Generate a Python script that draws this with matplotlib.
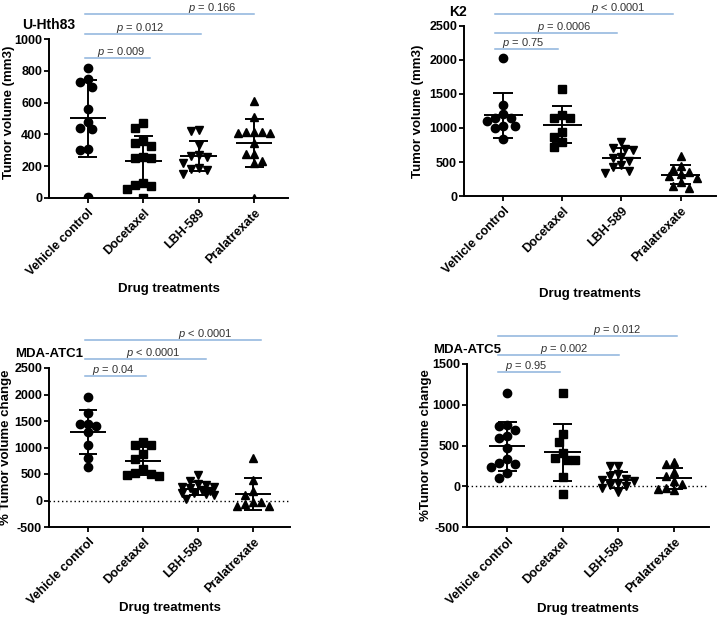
import numpy as np
import matplotlib.pyplot as plt

plt.rcParams['font.family'] = ['Liberation Sans', 'DejaVu Sans']
plt.rcParams['mathtext.fontset'] = 'custom'
plt.rcParams['mathtext.it'] = 'Liberation Sans:italic'
plt.rcParams['mathtext.rm'] = 'Liberation Sans'

groups = ["Vehicle control", "Docetaxel", "LBH-589", "Pralatrexate"]
markers = ['o', 's', 'v', '^']

# values, one list per treatment group
uhth83 = [
    [817, 749, 728, 699, 558, 476, 438, 431, 309, 299, 6],
    [469, 442, 358, 349, 324, 259, 253, 253, 97, 82, 74, 57, 0],
    [427, 423, 333, 270, 265, 255, 222, 190, 180, 178, 150],
    [611, 507, 415, 415, 415, 406, 406, 347, 274, 274, 232, 221, 0],
]
k2 = [
    [2030, 1337, 1209, 1146, 1140, 1096, 1032, 1032, 998, 836],
    [1578, 1185, 1145, 1145, 948, 865, 799, 727],
    [800, 700, 690, 675, 575, 555, 520, 450, 430, 370, 340],
    [590, 440, 400, 350, 320, 290, 260, 200, 150, 120],
]
atc1 = [
    [1956, 1652, 1450, 1450, 1412, 1285, 1051, 798, 639],
    [1095, 1051, 1038, 880, 791, 595, 513, 500, 475, 462],
    [490, 370, 310, 290, 260, 250, 230, 200, 170, 150, 140, 120, 100, 30],
    [810, 390, 170, 100, -20, -30, -60, -100, -110],
]
atc5 = [
    [1148, 748, 743, 686, 620, 586, 467, 330, 285, 268, 240, 157, 107],
    [1148, 644, 549, 413, 351, 322, 322, 116, -91],
    [250, 245, 150, 120, 90, 80, 60, 40, 20, 0, -20, -70],
    [300, 270, 170, 120, 60, 30, -20, -30, -40],
]

uhth83_p = ["= 0.009", "= 0.012", "= 0.166"]
k2_p = ["= 0.75", "= 0.0006", "< 0.0001"]
atc1_p = ["= 0.04", "< 0.0001", "< 0.0001"]
atc5_p = ["= 0.95", "= 0.002", "= 0.012"]

W, H = 724, 621

panels = [
    dict(data=uhth83, pvals=uhth83_p, title="U-Hth83", tsize=10, tha='center',
         ylabel="Tumor volume (mm3)", px=(49, 39, 288, 198),
         xlim=(-0.70, 3.61), ylim=(0, 1000), yticks=np.arange(0, 1001, 200),
         bar_y=[880, 1031, 1160], bar_x0=-0.05, bar_x1=[1.12, 2.04, 3.0],
         txt_x=[0.61, 0.94, 2.25], ylab=(-0.142, 0.54), xlab=-0.535, zero=False),
    dict(data=k2, pvals=k2_p, title="K2", tsize=10, tha='right',
         ylabel="Tumor volume (mm3)", px=(464, 26, 716, 196),
         xlim=(-0.66, 3.6), ylim=(0, 2500), yticks=np.arange(0, 2501, 500),
         bar_y=[2161, 2397, 2680], bar_x0=-0.14, bar_x1=[0.93, 1.93, 2.88],
         txt_x=[0.34, 1.04, 1.95], ylab=(-0.159, 0.5), xlab=-0.54, zero=False),
    dict(data=atc1, pvals=atc1_p, title="MDA-ATC1", tsize=9.5, tha='center',
         ylabel="% Tumor volume change", px=(49, 368, 290, 527),
         xlim=(-0.71, 3.67), ylim=(-500, 2500), yticks=np.arange(-500, 2501, 500),
         bar_y=[2349, 2670, 3028], bar_x0=-0.05, bar_x1=[1.06, 2.14, 3.15],
         txt_x=[0.45, 1.19, 2.14], ylab=(-0.152, 0.5), xlab=-0.47, zero=True),
    dict(data=atc5, pvals=atc5_p, title="MDA-ATC5", tsize=9.5, tha='center',
         ylabel="%Tumor volume change", px=(467, 364, 709, 527),
         xlim=(-0.72, 3.63), ylim=(-500, 1500), yticks=np.arange(-500, 1501, 500),
         bar_y=[1399, 1607, 1840], bar_x0=-0.16, bar_x1=[0.95, 2.02, 3.05],
         txt_x=[0.34, 1.03, 1.98], ylab=(-0.145, 0.5), xlab=-0.466, zero=True),
]


def swarm_x(ax, pos, vals, size_px=8.0, max_px=16.0):
    # deterministic beeswarm in pixel space, kept within +-max_px
    to_px = ax.transData.transform
    ys = to_px(np.column_stack([np.full(len(vals), pos), vals]))[:, 1]
    unit = to_px((1, 0))[0] - to_px((0, 0))[0]
    step = size_px / 2
    cands = [0.0]
    k = 1
    while k * step <= max_px:
        cands += [-k * step, k * step]
        k += 1
    done = []
    offs = np.zeros(len(vals))
    for i in np.argsort(-np.asarray(vals, dtype=float), kind='stable'):
        best, best_d = 0.0, -1.0
        for c in cands:
            d = min([np.hypot(c - ox, ys[i] - oy) for ox, oy in done] or [1e9])
            if d >= size_px:
                best = c
                break
            if d > best_d:
                best, best_d = c, d
        offs[i] = best
        done.append((best, ys[i]))
    return pos + offs / unit


fig = plt.figure(figsize=(W / 100, H / 100), dpi=100)

for p in panels:
    x0, y0, x1, y1 = p['px']
    ax = fig.add_axes([x0 / W, 1 - y1 / H, (x1 - x0) / W, (y1 - y0) / H])
    ax.set_xlim(*p['xlim'])
    ax.set_ylim(*p['ylim'])

    for s in ['top', 'right']:
        ax.spines[s].set_visible(False)
    for s in ['left', 'bottom']:
        ax.spines[s].set_linewidth(1.4)

    if p['zero']:
        ax.axhline(0, color='black', ls=(0, (1, 2)), lw=1.0, zorder=1)

    for i, vals in enumerate(p['data']):
        v = np.asarray(vals, dtype=float)
        xs = swarm_x(ax, i, v)
        ms = 6.3 if markers[i] in ('v', '^') else 6
        if markers[i] == 's':
            ms = 5.6
        ax.plot(xs, v, ls='none', marker=markers[i], ms=ms, color='black', zorder=3)
        m, sd = v.mean(), v.std(ddof=1)
        ax.hlines(m, i - 0.33, i + 0.33, color='black', lw=1.4, zorder=4)
        ax.vlines(i, m - sd, m + sd, color='black', lw=1.4, zorder=4)
        ax.hlines([m - sd, m + sd], i - 0.17, i + 0.17, color='black', lw=1.4, zorder=4)

    for k in range(3):
        ax.plot([p['bar_x0'], p['bar_x1'][k]], [p['bar_y'][k]] * 2,
                color='#8db3dd', lw=1.1, clip_on=False)
        ax.annotate(r"$\mathit{p}$ " + p['pvals'][k], (p['txt_x'][k], p['bar_y'][k]),
                    xytext=(0, 2.2), textcoords='offset points', ha='center',
                    va='baseline', fontsize=8, color='#333333', annotation_clip=False)

    ax.set_yticks(p['yticks'])
    ax.set_yticklabels([str(t) for t in p['yticks']], fontweight='bold')
    ax.set_xticks(range(len(groups)))
    ax.set_xticklabels(groups, rotation=45, ha='right', rotation_mode='anchor',
                       fontweight='bold')
    ax.tick_params(axis='both', direction='out', length=3.5, width=1.3,
                   labelsize=9, pad=1.5)
    ax.tick_params(axis='x', pad=3)

    ax.set_ylabel(p['ylabel'], fontweight='bold', fontsize=9.5)
    ax.yaxis.set_label_coords(*p['ylab'])
    ax.set_xlabel("Drug treatments", fontweight='bold', fontsize=9.5)
    ax.xaxis.set_label_coords(0.5, p['xlab'])

    ax.annotate(p['title'], (0, 1), xycoords='axes fraction',
                xytext=(2 if p['tha'] == 'right' else 0, 10),
                textcoords='offset points', ha=p['tha'], va='center',
                fontweight='bold', fontsize=p['tsize'], annotation_clip=False)

fig.savefig("out.png", dpi=100)
